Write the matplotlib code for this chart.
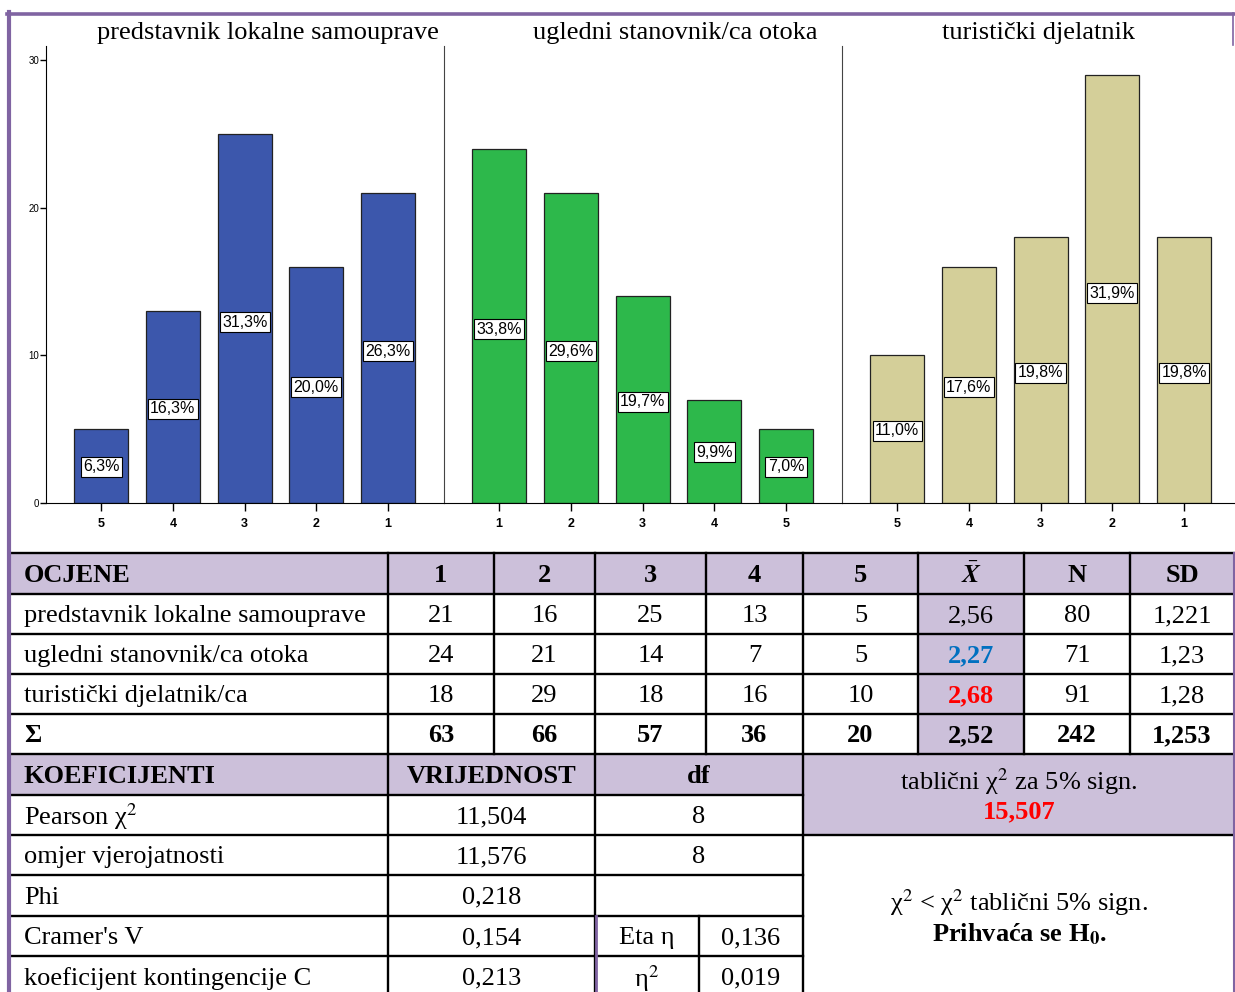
import numpy as np
import matplotlib.pyplot as plt

plt.rcParams['font.family'] = 'Liberation Serif'
plt.rcParams['mathtext.fontset'] = 'stix'

W, H = 1235, 992

# Podaci za grafove (redoslijed stupaca kao na slici)
naslovi = ['predstavnik lokalne samouprave', 'ugledni stanovnik/ca otoka', 'turistički djelatnik']
ocjene_1 = ['5', '4', '3', '2', '1']
ocjene_2 = ['1', '2', '3', '4', '5']
ocjene_3 = ['5', '4', '3', '2', '1']
broj_1 = [5, 13, 25, 16, 21]
broj_2 = [24, 21, 14, 7, 5]
broj_3 = [10, 16, 18, 29, 18]
posto_1 = ['6,3%', '16,3%', '31,3%', '20,0%', '26,3%']
posto_2 = ['33,8%', '29,6%', '19,7%', '9,9%', '7,0%']
posto_3 = ['11,0%', '17,6%', '19,8%', '31,9%', '19,8%']
boje = ['#3c57ac', '#2db84b', '#d4cf99']

# Podaci za tablicu
zaglavlje = ['OCJENE', '1', '2', '3', '4', '5', r'$\bar{\mathbfit{X}}$', 'N', 'SD']
redovi = [
    ['predstavnik lokalne samouprave', '21', '16', '25', '13', '5', '2,56', '80', '1,221'],
    ['ugledni stanovnik/ca otoka', '24', '21', '14', '7', '5', '2,27', '71', '1,23'],
    ['turistički djelatnik/ca', '18', '29', '18', '16', '10', '2,68', '91', '1,28'],
]
suma = ['Σ', '63', '66', '57', '36', '20', '2,52', '242', '1,253']
koef_zaglavlje = ['KOEFICIJENTI', 'VRIJEDNOST', 'df']
koef_nazivi = [r'Pearson χ$^2$', 'omjer vjerojatnosti', 'Phi', "Cramer's V", 'koeficijent kontingencije C']
koef_vrijednosti = ['11,504', '11,576', '0,218', '0,154', '0,213']
koef_df = ['8', '8', '', None, None]
eta = [['Eta η', '0,136'], [r'η$^2$', '0,019']]
tablicni = '15,507'

ljub = '#8064a2'
ljub_fill = '#ccc0da'

fig = plt.figure(figsize=(W / 100, H / 100), dpi=100)

# pozadinska os u pikselima za tablicu i okvir
tb = fig.add_axes([0, 0, 1, 1])
tb.set_xlim(0, W)
tb.set_ylim(H, 0)
tb.axis('off')

def fx(px):
    return px / W

def fy(py):
    return 1 - py / H

# ---- grafovi ----
ax_top, ax_bot = 46, 503
paneli = [(46, 444), (444, 842), (842, 1240)]
podaci = [(ocjene_1, broj_1, posto_1), (ocjene_2, broj_2, posto_2), (ocjene_3, broj_3, posto_3)]
naslov_x = [268, 675, 1039]

for i, ((x0, x1), (oc, br, po)) in enumerate(zip(paneli, podaci)):
    ax = fig.add_axes([fx(x0), fy(ax_bot), fx(x1 - x0), (ax_bot - ax_top) / H])
    ax.patch.set_alpha(0)
    x = np.arange(len(br))
    ax.bar(x, br, width=0.75, color=boje[i], edgecolor='#222222', linewidth=0.9)
    for xi, h, t in zip(x, br, po):
        ax.text(xi, h * 0.49, t, ha='center', va='center', fontsize=11.5,
                family='Liberation Sans',
                bbox=dict(boxstyle='square,pad=0.15', fc='white', ec='black', lw=0.8))
    ax.set_xlim(-0.77, 4.78)
    ax.set_ylim(0, 30.95)
    ax.set_xticks(x)
    ax.set_xticklabels(oc, fontsize=9, fontweight='bold', family='Liberation Sans')
    ax.tick_params(axis='x', length=6, width=1, pad=4.5)
    ax.spines['top'].set_visible(False)
    ax.spines['right'].set_visible(False)
    if i == 0:
        ax.set_yticks([0, 10, 20, 30])
        ax.tick_params(axis='y', length=4, width=1, labelsize=7, pad=1)
        for lab in ax.get_yticklabels():
            lab.set_family('Liberation Sans')
    else:
        ax.set_yticks([])
        ax.spines['left'].set_color('#444444')
    fig.text(fx(naslov_x[i]), fy(33), naslovi[i], ha='center', va='center', fontsize=19)

# ---- tablica ----
rows_y = [553, 594, 634, 674, 714, 754, 795, 835, 875, 916, 956, 997]
cols = [10, 388, 494, 595, 706, 803, 918, 1024, 1130, 1234]
fs = 19
dy = 2  # tekst malo niže od sredine ćelije

def cell(x0, x1, y0, y1, fc):
    tb.fill_between([x0, x1], y0, y1, color=fc, lw=0, zorder=1)

# ispune
cell(10, 1234, rows_y[0], rows_y[1], ljub_fill)
cell(cols[6], cols[7], rows_y[0], rows_y[5], ljub_fill)
cell(10, 803, rows_y[5], rows_y[6], ljub_fill)
cell(803, 1234, rows_y[5], rows_y[7], ljub_fill)

lw = 1.7
# vodoravne linije
for y in rows_y[:6]:
    tb.plot([10, 1234], [y, y], color='black', lw=lw, zorder=3)
tb.plot([10, 803], [rows_y[6]] * 2, color='black', lw=lw, zorder=3)
tb.plot([10, 1234], [rows_y[7]] * 2, color='black', lw=lw, zorder=3)
for y in rows_y[8:11]:
    tb.plot([10, 803], [y, y], color='black', lw=lw, zorder=3)
# okomite linije
for x in cols[1:-1]:
    tb.plot([x, x], [rows_y[0], rows_y[5]], color='black', lw=lw, zorder=3)
for x in [388, 595, 803]:
    tb.plot([x, x], [rows_y[5], H], color='black', lw=lw, zorder=3)
tb.plot([699, 699], [rows_y[9], H], color='black', lw=lw, zorder=3)
tb.plot([596, 596], [rows_y[9], H], color=ljub, lw=2, zorder=4)

def mid(a, b):
    return (a + b) / 2

# zaglavlje
for j, t in enumerate(zaglavlje):
    yc = mid(rows_y[0], rows_y[1]) + dy
    if j == 0:
        tb.text(24, yc, t, ha='left', va='center', fontsize=fs, fontweight='bold', zorder=5)
    else:
        tb.text(mid(cols[j], cols[j + 1]), yc, t, ha='center', va='center', fontsize=fs,
                fontweight='bold', zorder=5)

boje_sr = ['black', '#0070c0', '#ff0000']
for r, red in enumerate(redovi):
    yc = mid(rows_y[r + 1], rows_y[r + 2]) + dy
    for j, t in enumerate(red):
        if j == 0:
            tb.text(24, yc, t, ha='left', va='center', fontsize=fs, zorder=5)
        elif j == 6:
            tb.text(mid(cols[j], cols[j + 1]), yc, t, ha='center', va='center', fontsize=fs,
                    color=boje_sr[r], fontweight='normal' if r == 0 else 'bold', zorder=5)
        else:
            tb.text(mid(cols[j], cols[j + 1]), yc, t, ha='center', va='center', fontsize=fs, zorder=5)

yc = mid(rows_y[4], rows_y[5]) + dy
for j, t in enumerate(suma):
    if j == 0:
        tb.text(24, yc, t, ha='left', va='center', fontsize=fs, fontweight='bold', zorder=5)
    else:
        tb.text(mid(cols[j], cols[j + 1]), yc, t, ha='center', va='center', fontsize=fs,
                fontweight='bold', zorder=5)

# koeficijenti
kc = [10, 388, 595, 803]
yc = mid(rows_y[5], rows_y[6]) + dy
tb.text(24, yc, koef_zaglavlje[0], ha='left', va='center', fontsize=fs, fontweight='bold', zorder=5)
tb.text(mid(kc[1], kc[2]), yc, koef_zaglavlje[1], ha='center', va='center', fontsize=fs, fontweight='bold', zorder=5)
tb.text(mid(kc[2], kc[3]), yc, koef_zaglavlje[2], ha='center', va='center', fontsize=fs, fontweight='bold', zorder=5)

for r in range(5):
    yc = mid(rows_y[6 + r], rows_y[7 + r]) + dy
    tb.text(24, yc, koef_nazivi[r], ha='left', va='center', fontsize=fs, zorder=5)
    tb.text(mid(kc[1], kc[2]), yc, koef_vrijednosti[r], ha='center', va='center', fontsize=fs, zorder=5)
    if koef_df[r]:
        tb.text(mid(kc[2], kc[3]), yc, koef_df[r], ha='center', va='center', fontsize=fs, zorder=5)
    elif koef_df[r] is None:
        e = eta[r - 3]
        tb.text(mid(595, 699), yc, e[0], ha='center', va='center', fontsize=fs, zorder=5)
        tb.text(mid(699, 803), yc, e[1], ha='center', va='center', fontsize=fs, zorder=5)

# desni blok
tb.text(1019, 782, r'tablični χ$^2$ za 5% sign.', ha='center', va='center', fontsize=fs, zorder=5)
tb.text(1019, 812, tablicni, ha='center', va='center', fontsize=fs, fontweight='bold', color='#ff0000', zorder=5)
tb.text(1019, 903, r'χ$^2$ < χ$^2$ tablični 5% sign.', ha='center', va='center', fontsize=fs, zorder=5)
tb.text(1019, 934, r'Prihvaća se H$_\mathbf{0}$.', ha='center', va='center', fontsize=fs, fontweight='bold', zorder=5)

# ljubičasti okvir
tb.plot([7, W], [13.5, 13.5], color=ljub, lw=2.6, zorder=6)
tb.plot([9, 9], [12, H], color=ljub, lw=3, zorder=6)
tb.plot([1232.5, 1232.5], [13, 45], color=ljub, lw=1.2, zorder=6)
tb.plot([1234, 1234], [rows_y[0], H], color=ljub, lw=1.5, zorder=6)

fig.savefig('out.png', dpi=100)
